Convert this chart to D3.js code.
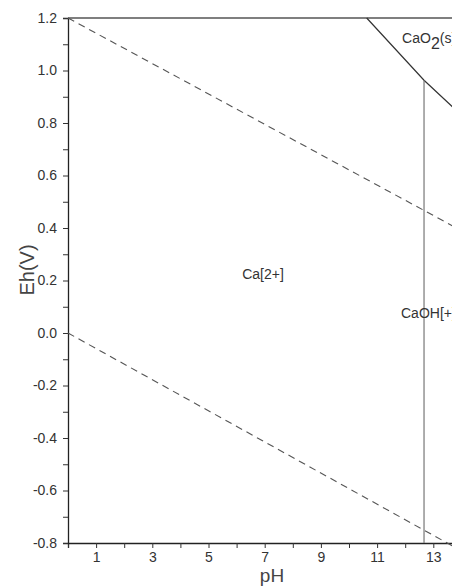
<!DOCTYPE html>
<html>
<head>
<meta charset="utf-8">
<script src="https://cdn.jsdelivr.net/npm/d3@7"></script>
<style>
  body { margin: 0; background: #fff; }
  svg { display: block; }
</style>
</head>
<body>
<div id="plot"></div>
<script>
// data
let pHTicks = [0, 1, 2, 3, 4, 5, 6, 7, 8, 9, 10, 11, 12, 13, 14];
let pHLabels = [1, 3, 5, 7, 9, 11, 13];
let ehTicks = [-0.8, -0.7, -0.6, -0.5, -0.4, -0.3, -0.2, -0.1, 0.0, 0.1, 0.2, 0.3, 0.4, 0.5, 0.6, 0.7, 0.8, 0.9, 1.0, 1.1, 1.2];
let ehLabels = [-0.8, -0.6, -0.4, -0.2, 0.0, 0.2, 0.4, 0.6, 0.8, 1.0, 1.2];

// water stability lines (dashed)
let waterUpper = [[0, 1.2], [14, 0.39]];
let waterLower = [[0, 0.0], [14, -0.83]];

// CaO2(s) boundary and Ca[2+]/CaOH[+] boundary
let cao2Line = [[10.63, 1.2], [12.67, 0.963], [14, 0.83]];
let caohLine = [[12.67, 0.963], [12.67, -0.8]];

let labels = [
  {pH: 6.2, eh: 0.206, text: "Ca[2+]"},
  {pH: 11.85, eh: 0.057, text: "CaOH[+]"}
];

let W = 452, H = 588;

let svg = d3.select("#plot").append("svg")
  .attr("width", W)
  .attr("height", H);

let x = d3.scaleLinear().domain([0, 14]).range([68, 68 + 14 * 28.1]);
let y = d3.scaleLinear().domain([-0.8, 1.2]).range([543, 18]);

let font = "Arial, 'Liberation Sans', sans-serif";

// x axis
let xAxis = svg.append("g")
  .attr("transform", "translate(0," + y(-0.8) + ")")
  .call(d3.axisBottom(x).tickValues(pHTicks).tickSize(5).tickPadding(4)
    .tickFormat(d => pHLabels.indexOf(d) >= 0 ? d : ""));
xAxis.select(".domain").attr("stroke", "#222").attr("stroke-width", 1.3);
xAxis.selectAll(".tick line").attr("stroke", "#333");
xAxis.selectAll("text").attr("font-family", font).attr("font-size", 14).attr("fill", "#333");

// y axis
let yAxis = svg.append("g")
  .attr("transform", "translate(" + x(0) + ",0)")
  .call(d3.axisLeft(y).tickValues(ehTicks).tickSize(5).tickPadding(6)
    .tickFormat(d => ehLabels.some(v => Math.abs(v - d) < 1e-9) ? d3.format(".1f")(d).replace("\u2212", "-") : ""));
yAxis.select(".domain").attr("stroke", "#222").attr("stroke-width", 1.3);
yAxis.selectAll(".tick line").attr("stroke", "#333");
yAxis.selectAll("text").attr("font-family", font).attr("font-size", 14).attr("fill", "#333");

// top frame
svg.append("line")
  .attr("x1", x(0)).attr("x2", x(14))
  .attr("y1", y(1.2)).attr("y2", y(1.2))
  .attr("stroke", "#555").attr("stroke-width", 1.3);

let line = d3.line().x(d => x(d[0])).y(d => y(d[1]));

svg.append("path").datum(waterUpper)
  .attr("d", line).attr("fill", "none")
  .attr("stroke", "#555").attr("stroke-width", 1.1)
  .attr("stroke-dasharray", "7,5");

svg.append("path").datum(waterLower)
  .attr("d", line).attr("fill", "none")
  .attr("stroke", "#555").attr("stroke-width", 1.1)
  .attr("stroke-dasharray", "7,5");

svg.append("path").datum(cao2Line)
  .attr("d", line).attr("fill", "none")
  .attr("stroke", "#333").attr("stroke-width", 1.2);

svg.append("path").datum(caohLine)
  .attr("d", line).attr("fill", "none")
  .attr("stroke", "#777").attr("stroke-width", 1.2);

// region labels
svg.selectAll(".lab").data(labels).enter().append("text")
  .attr("class", "lab")
  .attr("x", d => x(d.pH)).attr("y", d => y(d.eh))
  .attr("font-family", font).attr("font-size", 14).attr("fill", "#333")
  .text(d => d.text);

let cao2 = svg.append("text")
  .attr("x", x(11.89)).attr("y", y(1.105))
  .attr("font-family", font).attr("font-size", 14).attr("fill", "#333");
cao2.append("tspan").text("CaO");
cao2.append("tspan").attr("dy", 6).attr("font-size", 16).text("2");
cao2.append("tspan").attr("dy", -6).text("(s)");

// axis titles
svg.append("text")
  .attr("transform", "translate(34," + 270 + ")rotate(-90)")
  .attr("text-anchor", "middle")
  .attr("font-family", font).attr("font-size", 20).attr("fill", "#444")
  .text("Eh(V)");

svg.append("text")
  .attr("x", 272).attr("y", 582)
  .attr("text-anchor", "middle")
  .attr("font-family", font).attr("font-size", 19).attr("fill", "#444")
  .text("pH");
</script>
</body>
</html>
